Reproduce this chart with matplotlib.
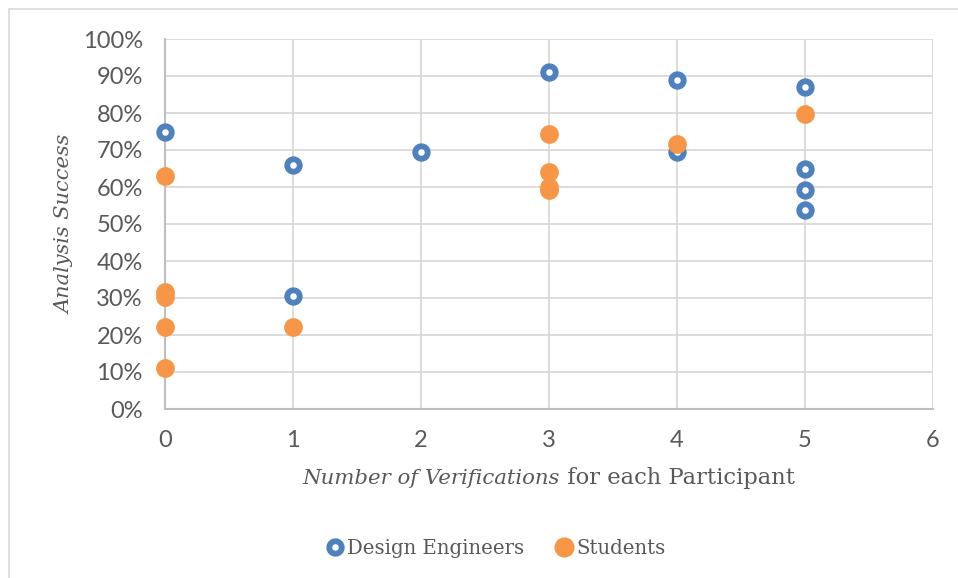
import matplotlib
matplotlib.use("Agg")
import matplotlib.pyplot as plt
from matplotlib.lines import Line2D
from matplotlib.patches import Rectangle
from matplotlib.offsetbox import TextArea, HPacker, AnchoredOffsetbox

# Data (success as fraction)
eng_x = [0, 1, 1, 2, 3, 4, 4, 5, 5, 5, 5]
eng_y = [0.75, 0.66, 0.305, 0.695, 0.91, 0.89, 0.695, 0.87, 0.65, 0.593, 0.538]
stu_x = [0, 0, 0, 0, 0, 1, 3, 3, 3, 3, 4, 5]
stu_y = [0.63, 0.317, 0.304, 0.222, 0.111, 0.222, 0.742, 0.64, 0.60, 0.592, 0.715, 0.797]

x_ticks = [0, 1, 2, 3, 4, 5, 6]
y_ticks = [i / 10 for i in range(11)]
y_labels = [f"{i * 10}%" for i in range(11)]

blue = "#4F81BD"
orange = "#F79646"
grey_text = "#595959"
serif = "DejaVu Serif"
sans = "Lato"

fig = plt.figure(figsize=(9.58, 5.78), dpi=100)
ax = fig.add_axes([165 / 958, 1 - 409 / 578, 768 / 958, 370 / 578])

# outer chart frame
fig.patches.append(Rectangle((9 / 958, -0.1), 2, 1 - 9 / 578 + 0.1, transform=fig.transFigure,
                             fill=False, edgecolor="#D9D9D9", linewidth=1.2))

ax.grid(True, color="#D9D9D9", linewidth=1.3)
ax.set_axisbelow(True)
for s in ["top", "right"]:
    ax.spines[s].set_visible(False)
for s in ["left", "bottom"]:
    ax.spines[s].set_color("#BFBFBF")
    ax.spines[s].set_linewidth(1.5)

ax.scatter(eng_x, eng_y, s=9 ** 2, facecolor="white", edgecolor=blue, linewidth=4.2, zorder=3, clip_on=False)
ax.scatter(stu_x, stu_y, s=13.5 ** 2, color=orange, linewidth=0, zorder=4, clip_on=False)

ax.set_xlim(0, 6)
ax.set_ylim(0, 1)
ax.set_xticks(x_ticks)
ax.set_yticks(y_ticks)
ax.set_yticklabels(y_labels)
ax.tick_params(length=0, labelsize=17, labelcolor=grey_text)
ax.tick_params(axis="x", pad=15)
ax.tick_params(axis="y", pad=16)
for lab in ax.get_xticklabels() + ax.get_yticklabels():
    lab.set_fontfamily(sans)

ax.set_ylabel("Analysis Success", fontsize=15, fontstyle="italic", family=serif, color=grey_text, labelpad=6)

# x axis title with mixed italic / upright parts
t1 = TextArea("Number of Verifications", textprops=dict(fontsize=15.3, fontstyle="italic", family=serif, color=grey_text))
t2 = TextArea(" for each Participant", textprops=dict(fontsize=16.3, family=serif, color=grey_text))
box = HPacker(children=[t1, t2], align="baseline", pad=0, sep=0)
anch = AnchoredOffsetbox(loc="center", child=box, frameon=False, pad=0,
                         bbox_to_anchor=(549 / 958, 1 - 478 / 578), bbox_transform=fig.transFigure)
fig.add_artist(anch)

handles = [
    Line2D([], [], marker="o", linestyle="none", markersize=9, markerfacecolor="white",
           markeredgecolor=blue, markeredgewidth=4.2, label="Design Engineers"),
    Line2D([], [], marker="o", linestyle="none", markersize=13.5, color=orange, label="Students"),
]
fig.legend(handles=handles, loc="center", bbox_to_anchor=(494 / 958, 1 - 548 / 578), ncol=2, frameon=False,
           prop=dict(family=serif, size=14.2), labelcolor=grey_text, handletextpad=0.0, columnspacing=1.45,
           handlelength=1.2)

fig.savefig("out.png", dpi=100)
